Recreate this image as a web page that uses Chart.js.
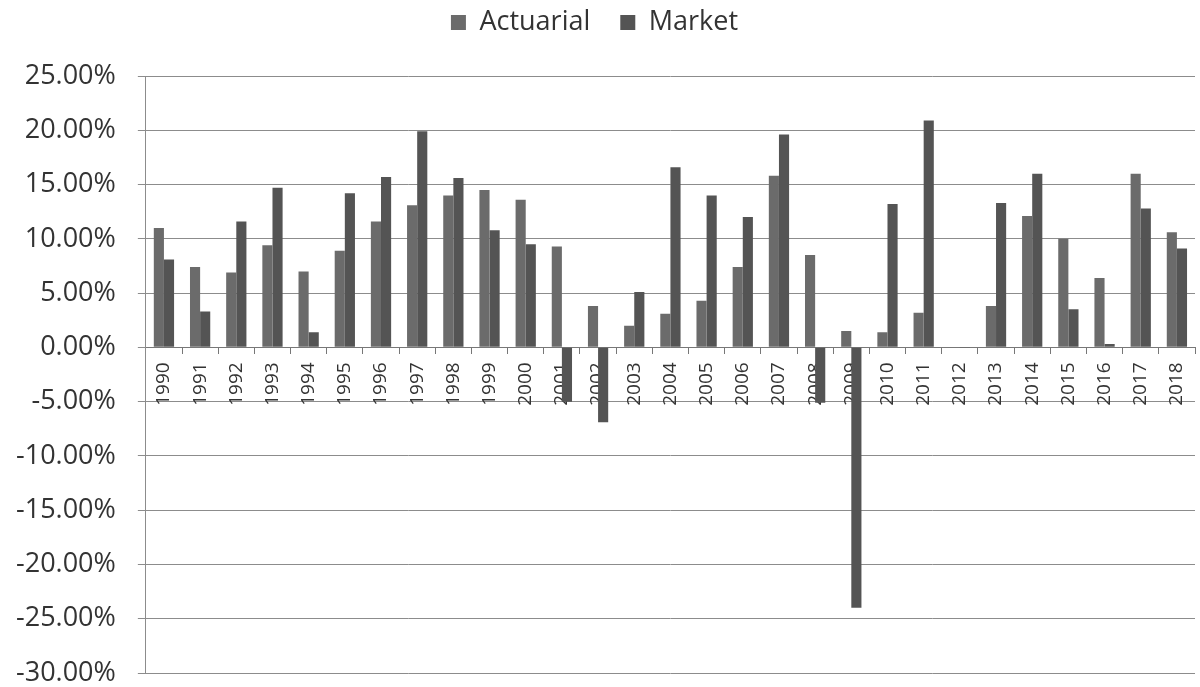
<!DOCTYPE html>
<html>
<head>
<meta charset="utf-8">
<script src="https://cdn.jsdelivr.net/npm/chart.js@4/dist/chart.umd.min.js"></script>
<style>
  html, body { margin: 0; padding: 0; background: #ffffff; }
  #wrap { width: 1200px; height: 687px; position: relative; }
</style>
</head>
<body>
<div id="wrap"><canvas id="chart"></canvas></div>
<script>
// Annual returns (%) by year
const years = ['1990','1991','1992','1993','1994','1995','1996','1997','1998','1999',
               '2000','2001','2002','2003','2004','2005','2006','2007','2008','2009',
               '2010','2011','2012','2013','2014','2015','2016','2017','2018'];
const actuarial = [11.0, 7.4, 6.9, 9.4, 7.0, 8.9, 11.6, 13.1, 14.0, 14.5,
                   13.6, 9.3, 3.8, 2.0, 3.1, 4.3, 7.4, 15.8, 8.5, 1.5,
                   1.4, 3.2, 0.05, 3.8, 12.1, 10.0, 6.4, 16.0, 10.6];
const market = [8.1, 3.3, 11.6, 14.7, 1.4, 14.2, 15.7, 19.9, 15.6, 10.8,
                9.5, -5.0, -6.9, 5.1, 16.6, 14.0, 12.0, 19.6, -5.1, -24.0,
                13.2, 20.9, -0.05, 13.3, 16.0, 3.5, 0.3, 12.8, 9.1];
const yTicks = [-30, -25, -20, -15, -10, -5, 0, 5, 10, 15, 20, 25];

const font = '"Open Sans", "DejaVu Sans", sans-serif';

// Extra room between the legend row and the plot
const legendGap = {
  id: 'legendGap',
  beforeInit(chart) {
    const fit = chart.legend.fit;
    chart.legend.fit = function () {
      fit.call(this);
      this.height += 30;
    };
  }
};

new Chart(document.getElementById('chart'), {
  type: 'bar',
  data: {
    labels: years,
    datasets: [
      { label: 'Actuarial', data: actuarial, backgroundColor: '#6b6b6b', borderWidth: 0 },
      { label: 'Market', data: market, backgroundColor: '#545454', borderWidth: 0 }
    ]
  },
  plugins: [legendGap],
  options: {
    responsive: true,
    maintainAspectRatio: false,
    animation: false,
    layout: { padding: { left: -6, right: 5, top: -21, bottom: 0 } },
    datasets: { bar: { categoryPercentage: 0.56, barPercentage: 1.0 } },
    plugins: {
      legend: {
        position: 'top',
        labels: {
          font: { family: font, size: 27 },
          color: '#333333',
          boxWidth: 15,
          boxHeight: 15,
          padding: 30
        }
      },
      tooltip: { enabled: false }
    },
    scales: {
      x: {
        position: { y: 0 },
        offset: true,
        // year labels sit inside the plot, under the zero line
        afterFit: (scale) => {
          scale.height = 0;
          scale.paddingTop = 0;
          scale.paddingBottom = 0;
          scale.paddingLeft = 0;
          scale.paddingRight = 0;
        },
        grid: { display: true, drawOnChartArea: false, tickLength: 6, color: '#777777', offset: true },
        border: { display: true, color: '#777777' },
        ticks: {
          font: { family: font, size: 19 },
          color: '#333333',
          minRotation: 90,
          maxRotation: 90,
          padding: 9,
          autoSkip: false
        }
      },
      y: {
        min: -30,
        max: 25,
        afterBuildTicks: (scale) => { scale.ticks = yTicks.map(v => ({ value: v })); },
        afterFit: (scale) => {
          scale.paddingTop = 0;
          scale.paddingBottom = 14;
        },
        grid: { color: '#8c8c8c', lineWidth: 1, tickLength: 8 },
        border: { display: true, color: '#8c8c8c' },
        ticks: {
          font: { family: font, size: 27 },
          color: '#333333',
          padding: 22,
          callback: (v) => v.toFixed(2) + '%'
        }
      }
    }
  }
});
</script>
</body>
</html>
